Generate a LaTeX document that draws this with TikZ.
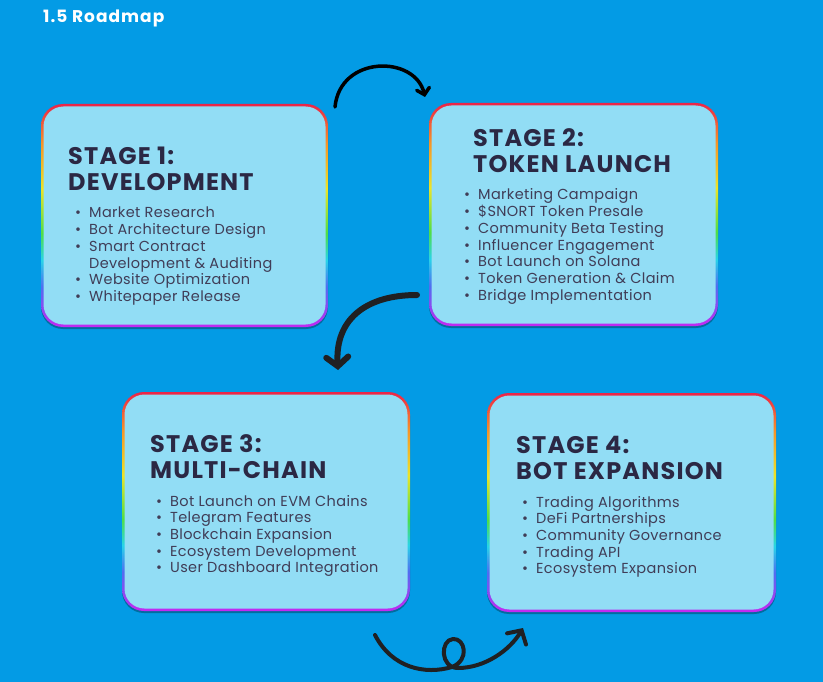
\documentclass[tikz,border=0pt]{standalone}
\usepackage{fontspec}
\setmainfont{Poppins}
\usetikzlibrary{arrows.meta,positioning}
\definecolor{sky}{RGB}{3,155,229}
\definecolor{card}{RGB}{146,221,245}
\definecolor{ink}{RGB}{43,40,68}
\definecolor{curl}{RGB}{32,32,34}
\definecolor{rred}{RGB}{236,36,72}
\definecolor{rorange}{RGB}{246,150,40}
\definecolor{ryellow}{RGB}{236,228,40}
\definecolor{rgreen}{RGB}{80,222,70}
\definecolor{rcyan}{RGB}{40,212,232}
\definecolor{rblue}{RGB}{80,110,240}
\definecolor{rpurple}{RGB}{196,40,242}
\pgfdeclareverticalshading{rainbow}{100bp}{color(0bp)=(rpurple); color(25bp)=(rpurple);
  color(34bp)=(rblue); color(40bp)=(rcyan); color(46bp)=(rgreen); color(56bp)=(ryellow);
  color(66bp)=(rorange); color(75bp)=(rred); color(100bp)=(rred)}

\tikzset{
  rim/.style={shading=rainbow, rounded corners=22pt, inner sep=0pt,
    preaction={fill=sky!70!black, transform canvas={yshift=-2pt}}},
  card/.style={fill=card, rounded corners=20pt, inner sep=0pt},
  head/.style={anchor=base west, inner sep=0pt, text=ink,
    font=\bfseries\fontsize{24}{26}\selectfont\addfontfeature{LetterSpace=5}},
  items/.style={anchor=base west, inner sep=0pt, text=ink!90,
    font=\fontsize{14.5}{16.7}\selectfont\addfontfeature{LetterSpace=2.5}},
  curly/.style={draw=curl, line cap=round, line join=round}
}

\begin{document}
\begin{tikzpicture}[x=1pt,y=-1pt]
	\fill[sky] (0,0) rectangle (823,682);
	\useasboundingbox (0,0) rectangle (823,682);

	\node[anchor=base west, inner sep=0pt, text=white,
	  font=\bfseries\fontsize{17}{20}\selectfont\addfontfeature{LetterSpace=6}] (caption) at (43,23) {1.5 Roadmap};

	% the four stage cards
	\foreach \n/\cx/\cy/\w/\h in {1/184.5/215.5/287/223, 2/573.5/214.5/289/223,
	  3/266/501.5/288/219, 4/631.5/502.5/289/219}
	{
		\node[rim, minimum width=\w pt, minimum height=\h pt] (r\n) at (\cx,\cy) {};
		\node[card, minimum width=\w pt-5pt, minimum height=\h pt-5pt] (s\n) at (r\n) {};
	}

	\node[head] (h1) at (68,165) {\begin{tabular}[t]{@{}l@{}}STAGE 1:\\DEVELOPMENT\end{tabular}};
	\node[items] (l1) at (75,218) {\begin{tabular}[t]{@{}c@{\hspace{8pt}}l@{}}
		\textbullet & Market Research\\
		\textbullet & Bot Architecture Design\\
		\textbullet & Smart Contract\\
		            & Development \& Auditing\\
		\textbullet & Website Optimization\\
		\textbullet & Whitepaper Release
	\end{tabular}};

	\node[head] (h2) at (473,147) {\begin{tabular}[t]{@{}l@{}}STAGE 2:\\TOKEN LAUNCH\end{tabular}};
	\node[items] (l2) at (464,200) {\begin{tabular}[t]{@{}c@{\hspace{8pt}}l@{}}
		\textbullet & Marketing Campaign\\
		\textbullet & \$SNORT Token Presale\\
		\textbullet & Community Beta Testing\\
		\textbullet & Influencer Engagement\\
		\textbullet & Bot Launch on Solana\\
		\textbullet & Token Generation \& Claim\\
		\textbullet & Bridge Implementation
	\end{tabular}};

	\node[head] (h3) at (150,452) {\begin{tabular}[t]{@{}l@{}}STAGE 3:\\MULTI-CHAIN\end{tabular}};
	\node[items] (l3) at (156,506) {\begin{tabular}[t]{@{}c@{\hspace{8pt}}l@{}}
		\textbullet & Bot Launch on EVM Chains\\
		\textbullet & Telegram Features\\
		\textbullet & Blockchain Expansion\\
		\textbullet & Ecosystem Development\\
		\textbullet & User Dashboard Integration
	\end{tabular}};

	\node[head] (h4) at (516,453) {\begin{tabular}[t]{@{}l@{}}STAGE 4:\\BOT EXPANSION\end{tabular}};
	\node[items] (l4) at (522,507) {\begin{tabular}[t]{@{}c@{\hspace{8pt}}l@{}}
		\textbullet & Trading Algorithms\\
		\textbullet & DeFi Partnerships\\
		\textbullet & Community Governance\\
		\textbullet & Trading API\\
		\textbullet & Ecosystem Expansion
	\end{tabular}};

	% hand drawn arrows between the stages
	\coordinate (a1) at (335,107);
	\coordinate (b1) at (425,97);
	\coordinate (a2) at (417,295);
	\coordinate (b2) at (338,370);
	\coordinate (a3) at (375,635);
	\coordinate (b3) at (523,628);

	\draw[curly, draw=black, line width=3.5pt,
	  -{Straight Barb[length=6pt,width=13pt,line cap=round]}]
	  (a1) .. controls (340,55) and (415,55) .. (b1);
	\draw[curly, line width=6pt,
	  -{Straight Barb[length=9pt,width=22pt,line cap=round]}]
	  (a2) .. controls (365,295) and (335,320) .. (b2);
	\draw[curly, line width=4pt,
	  -{Straight Barb[length=10pt,width=22pt,line cap=round]}]
	  (a3) .. controls (392,668) and (425,675) .. (452,667)
	  .. controls (470,660) and (465,638) .. (453,639)
	  .. controls (440,640) and (440,668) .. (458,668)
	  .. controls (485,668) and (510,650) .. (b3);
\end{tikzpicture}
\end{document}
